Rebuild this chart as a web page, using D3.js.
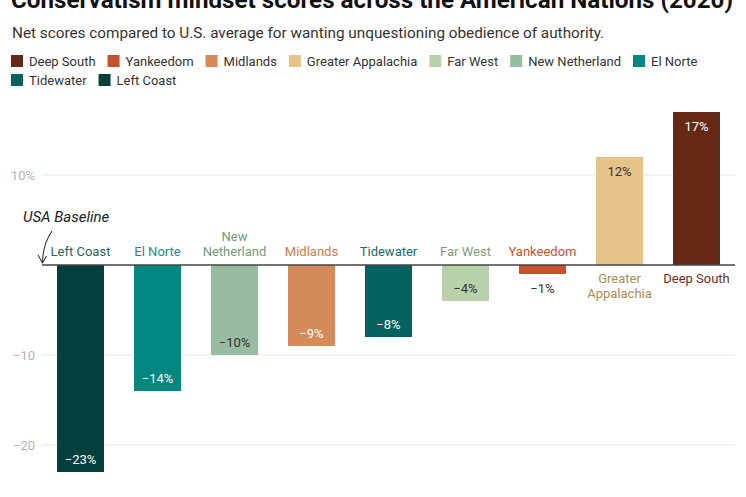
<!DOCTYPE html>
<html><head><meta charset="utf-8">
<script src="https://cdn.jsdelivr.net/npm/d3@7"></script>
<style>
body{margin:0;background:#fff;font-family:Roboto,"Noto Sans",sans-serif;}
svg{display:block;}
</style></head>
<body>
<script>
const legendOrder = ["Deep South","Yankeedom","Midlands","Greater Appalachia","Far West","New Netherland","El Norte","Tidewater","Left Coast"];
const legendColors = ["#662916","#c8502b","#d48a59","#e6c388","#b8d1ac","#97bc9f","#00877f","#01625f","#003f3c"];
const categories = ["Left Coast","El Norte","New Netherland","Midlands","Tidewater","Far West","Yankeedom","Greater Appalachia","Deep South"];
const values = [-23,-14,-10,-9,-8,-4,-1,12,17];
const tickValues = [10,-10,-20];
const tickLabels = ["10%","\u221210","\u221220"];
const labelColors = {"Deep South":"#6b2d1c","Yankeedom":"#d0502c","Midlands":"#cf7a4a","Greater Appalachia":"#a88b55","Far West":"#7e9c78","New Netherland":"#6f9a7c","El Norte":"#15908a","Tidewater":"#1a6d67","Left Coast":"#2a645e"};
const lightBars = ["Greater Appalachia","Far West","New Netherland"];
const catLines = {"New Netherland":["New","Netherland"],"Greater Appalachia":["Greater","Appalachia"]};

const W=746,H=497;
const svg=d3.select("body").append("svg").attr("width",W).attr("height",H);
const color=d3.scaleOrdinal().domain(legendOrder).range(legendColors);

svg.append("text").attr("x",11).attr("y",8).attr("font-size",24.2).attr("font-weight",700).attr("fill","#111")
  .text("Conservatism mindset scores across the American Nations (2020)");
svg.append("text").attr("x",12).attr("y",38).attr("font-size",15.3).attr("fill","#333")
  .text("Net scores compared to U.S. average for wanting unquestioning obedience of authority.");

// legend
let lx=11, ly=55;
const lg=svg.append("g");
legendOrder.forEach((name,i)=>{
  const g=lg.append("g");
  const t=g.append("text").attr("font-size",13).attr("fill","#333").text(name);
  const w=t.node().getComputedTextLength();
  if(lx+18+w>740){lx=11;ly+=19;}
  g.insert("rect","text").attr("x",lx).attr("y",ly).attr("width",12).attr("height",12).attr("fill",color(name));
  t.attr("x",lx+18).attr("y",ly+10.5);
  lx+=18+w+12;
});

const x=d3.scaleBand().domain(categories).range([42,735]).paddingInner(0.39).paddingOuter(0.195);
const y=d3.scaleLinear().domain([-25,20]).range([490,85]);

// gridlines
const grid=svg.append("g");
tickValues.forEach((v,i)=>{
  grid.append("line").attr("x1",42).attr("x2",735).attr("y1",y(v)).attr("y2",y(v)).attr("stroke","#e6e6e6").attr("stroke-width",1);
  grid.append("text").attr("x",35).attr("y",y(v)).attr("dy","0.35em").attr("text-anchor","end")
    .attr("font-size",13).attr("fill","#b3b3b3").text(tickLabels[i]);
});

const data=categories.map((c,i)=>({c,v:values[i]}));
svg.append("g").selectAll("rect").data(data).join("rect")
  .attr("x",d=>x(d.c)).attr("width",x.bandwidth())
  .attr("y",d=>Math.min(y(d.v),y(0))).attr("height",d=>Math.abs(y(d.v)-y(0)))
  .attr("fill",d=>color(d.c));

// zero baseline
svg.append("line").attr("x1",42).attr("x2",735).attr("y1",y(0)).attr("y2",y(0)).attr("stroke","#444").attr("stroke-width",1.3);

// value labels
svg.append("g").selectAll("text").data(data).join("text")
  .attr("x",d=>x(d.c)+x.bandwidth()/2)
  .attr("y",d=>{
    const len=Math.abs(y(d.v)-y(0));
    const inside=len>25;
    if(d.v<0) return inside? y(d.v)-13 : y(d.v)+14;
    return y(d.v)+14;
  })
  .attr("dy","0.35em").attr("text-anchor","middle").attr("font-size",13)
  .attr("fill",d=>{
    const len=Math.abs(y(d.v)-y(0));
    if(len<=25||lightBars.includes(d.c)) return "#333";
    return "#fff";
  })
  .text(d=>(d.v<0?"\u2212"+Math.abs(d.v):d.v)+"%");

// category labels
const cl=svg.append("g");
data.forEach(d=>{
  const lines=catLines[d.c]||[d.c];
  const t=cl.append("text").attr("text-anchor","middle").attr("font-size",13).attr("fill",labelColors[d.c]);
  const cx=x(d.c)+x.bandwidth()/2;
  lines.forEach((ln,j)=>{
    let yy;
    if(d.v<0) yy=y(0)-9.5-(lines.length-1-j)*15;
    else yy=y(0)+17.5+j*15;
    t.append("tspan").attr("x",cx).attr("y",yy).text(ln);
  });
});

// USA baseline annotation
svg.append("text").attr("x",23).attr("y",221.5).attr("font-size",15).attr("font-style","italic").attr("fill","#222").text("USA Baseline");
svg.append("path").attr("d","M52,231 Q43,244 42.5,262").attr("fill","none").attr("stroke","#333").attr("stroke-width",1.1);
svg.append("path").attr("d","M38,255 L42.5,263 L46.5,256").attr("fill","none").attr("stroke","#333").attr("stroke-width",1.1);
</script>
</body></html>
